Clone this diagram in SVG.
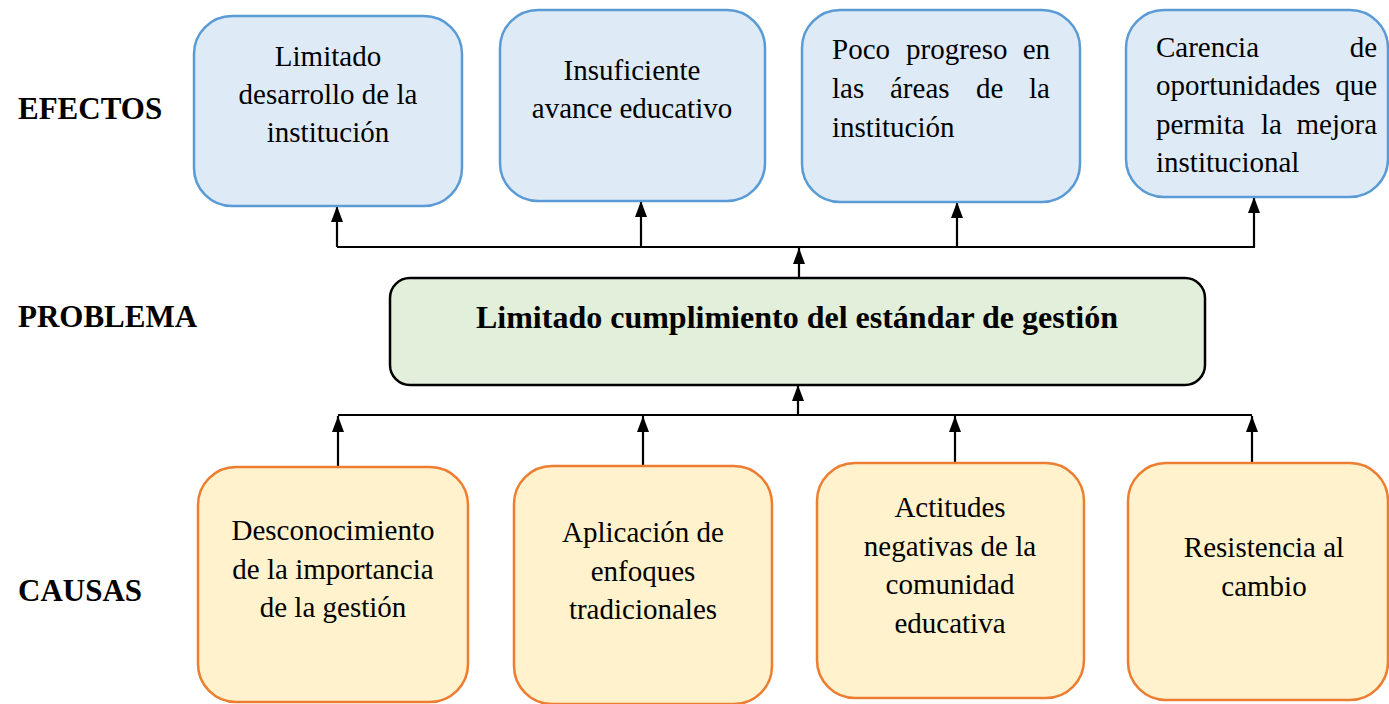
<svg xmlns="http://www.w3.org/2000/svg" width="1389" height="704" viewBox="0 0 1389 704" font-family="Liberation Serif, Times New Roman, serif">
<style>
.eff{fill:#deebf7;stroke:#5b9bd5;stroke-width:2.5}
.cau{fill:#fff2cc;stroke:#ed7d31;stroke-width:2.5}
.prob{fill:#e2efda;stroke:#000;stroke-width:2.5}
.t{font-size:29px;fill:#000}
.c{text-anchor:middle}
.e{text-anchor:end}
.lbl{font-size:31px;font-weight:bold;fill:#000}
.title{font-size:32px;font-weight:bold;fill:#000;text-anchor:middle}
.ln{stroke:#000;stroke-width:2.2;fill:none}
</style>
<defs>
<marker id="ah" viewBox="0 0 16 12" refX="16" refY="6" markerWidth="16" markerHeight="12" markerUnits="userSpaceOnUse" orient="auto">
<path d="M0,0 L16,6 L0,12 z" fill="#000"/>
</marker>
</defs>
<rect width="1389" height="704" fill="#fff"/>

<g id="labels">
<text class="lbl" x="18" y="119">EFECTOS</text>
<text class="lbl" x="18" y="327">PROBLEMA</text>
<text class="lbl" x="18" y="601">CAUSAS</text>
</g>

<g id="connectors">
<line class="ln" x1="337" y1="247" x2="1255" y2="247"/>
<line class="ln" x1="337" y1="247" x2="337" y2="206" marker-end="url(#ah)"/>
<line class="ln" x1="641" y1="247" x2="641" y2="201" marker-end="url(#ah)"/>
<line class="ln" x1="957" y1="247" x2="957" y2="202" marker-end="url(#ah)"/>
<line class="ln" x1="1254" y1="247" x2="1254" y2="197" marker-end="url(#ah)"/>
<line class="ln" x1="799" y1="278" x2="799" y2="248" marker-end="url(#ah)"/>
<line class="ln" x1="338" y1="415" x2="1252" y2="415"/>
<line class="ln" x1="798" y1="415" x2="798" y2="385" marker-end="url(#ah)"/>
<line class="ln" x1="338" y1="467" x2="338" y2="416" marker-end="url(#ah)"/>
<line class="ln" x1="643" y1="466" x2="643" y2="416" marker-end="url(#ah)"/>
<line class="ln" x1="955" y1="463" x2="955" y2="416" marker-end="url(#ah)"/>
<line class="ln" x1="1252" y1="463" x2="1252" y2="416" marker-end="url(#ah)"/>
</g>

<g id="efecto1">
<rect class="eff" x="194" y="16" width="268" height="190" rx="38"/>
<text class="t c" x="328" y="66">Limitado</text>
<text class="t c" x="328" y="104">desarrollo de la</text>
<text class="t c" x="328" y="142">institución</text>
</g>
<g id="efecto2">
<rect class="eff" x="500" y="10" width="265" height="191" rx="38"/>
<text class="t c" x="632" y="80">Insuficiente</text>
<text class="t c" x="632" y="118">avance educativo</text>
</g>
<g id="efecto3">
<rect class="eff" x="802" y="10" width="278" height="192" rx="38"/>
<text class="t" x="832" y="59">Poco</text>
<text class="t" x="906" y="59">progreso</text>
<text class="t e" x="1050" y="59">en</text>
<text class="t" x="832" y="98">las</text>
<text class="t" x="890" y="98">áreas</text>
<text class="t" x="976" y="98">de</text>
<text class="t e" x="1050" y="98">la</text>
<text class="t" x="832" y="137">institución</text>
</g>
<g id="efecto4">
<rect class="eff" x="1126" y="10" width="262" height="187" rx="38"/>
<text class="t" x="1156" y="57">Carencia</text>
<text class="t e" x="1377" y="57">de</text>
<text class="t" x="1156" y="95">oportunidades</text>
<text class="t e" x="1377" y="95">que</text>
<text class="t" x="1156" y="134">permita</text>
<text class="t" x="1261" y="134">la</text>
<text class="t e" x="1377" y="134">mejora</text>
<text class="t" x="1156" y="172">institucional</text>
</g>

<g id="problema">
<rect class="prob" x="390" y="278" width="815" height="107" rx="20"/>
<text class="title" x="797" y="328">Limitado cumplimiento del estándar de gestión</text>
</g>

<g id="causa1">
<rect class="cau" x="198" y="467" width="270" height="235" rx="38"/>
<text class="t c" x="333" y="540">Desconocimiento</text>
<text class="t c" x="333" y="579">de la importancia</text>
<text class="t c" x="333" y="617">de la gestión</text>
</g>
<g id="causa2">
<rect class="cau" x="514" y="466" width="258" height="238" rx="38"/>
<text class="t c" x="643" y="542">Aplicación de</text>
<text class="t c" x="643" y="581">enfoques</text>
<text class="t c" x="643" y="619">tradicionales</text>
</g>
<g id="causa3">
<rect class="cau" x="817" y="463" width="267" height="235" rx="38"/>
<text class="t c" x="950" y="517">Actitudes</text>
<text class="t c" x="950" y="556">negativas de la</text>
<text class="t c" x="950" y="594">comunidad</text>
<text class="t c" x="950" y="633">educativa</text>
</g>
<g id="causa4">
<rect class="cau" x="1128" y="463" width="260" height="237" rx="38"/>
<text class="t c" x="1264" y="557">Resistencia al</text>
<text class="t c" x="1264" y="596">cambio</text>
</g>
</svg>
